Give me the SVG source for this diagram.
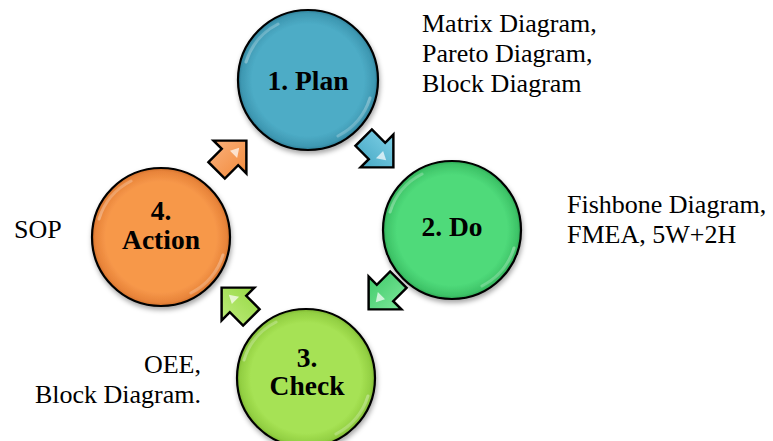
<svg xmlns="http://www.w3.org/2000/svg" width="773" height="441" viewBox="0 0 773 441" font-family="'Liberation Serif', 'DejaVu Serif', serif">
<style>
text{font-family:'Liberation Serif','DejaVu Serif',serif}
.lbl{font-size:26px;fill:#000}
.ttl{font-size:27.5px;font-weight:bold;fill:#000;text-anchor:middle}
.ring{stroke:#000;stroke-width:2.2}
.hl{fill:none;stroke:url(#hlg);stroke-width:3;stroke-linecap:round}
.arr{stroke:#000;stroke-width:1.7;stroke-linejoin:miter}
</style>
<defs>
<filter id="sh" x="-20%" y="-20%" width="140%" height="150%">
<feDropShadow dx="1" dy="3" stdDeviation="2.5" flood-color="#000" flood-opacity="0.35"/>
</filter>
<linearGradient id="hlg" x1="0" y1="0" x2="1" y2="1">
<stop offset="0" stop-color="#fff" stop-opacity="0"/>
<stop offset="0.5" stop-color="#fff" stop-opacity="0.95"/>
<stop offset="1" stop-color="#fff" stop-opacity="0"/>
</linearGradient>
<radialGradient id="gb" cx="0.5" cy="0.5" r="0.5"><stop offset="0.8" stop-color="#4DACC6"/><stop offset="0.95" stop-color="#3E98B2"/><stop offset="1" stop-color="#2F7F98"/></radialGradient>
<radialGradient id="gg" cx="0.5" cy="0.5" r="0.5"><stop offset="0.8" stop-color="#4FDA7A"/><stop offset="0.95" stop-color="#3EC468"/><stop offset="1" stop-color="#2FA855"/></radialGradient>
<radialGradient id="gl" cx="0.5" cy="0.5" r="0.5"><stop offset="0.8" stop-color="#A6E254"/><stop offset="0.95" stop-color="#92CF42"/><stop offset="1" stop-color="#7DB532"/></radialGradient>
<radialGradient id="go" cx="0.5" cy="0.5" r="0.5"><stop offset="0.8" stop-color="#F7984A"/><stop offset="0.95" stop-color="#E8843A"/><stop offset="1" stop-color="#D0702C"/></radialGradient>
<linearGradient id="ab" x1="0" y1="0" x2="0" y2="1"><stop offset="0" stop-color="#7FD0E6"/><stop offset="1" stop-color="#46A8C4"/></linearGradient>
<linearGradient id="ag" x1="0" y1="0" x2="0" y2="1"><stop offset="0" stop-color="#7DE69A"/><stop offset="1" stop-color="#3FCB6A"/></linearGradient>
<linearGradient id="al" x1="0" y1="0" x2="0" y2="1"><stop offset="0" stop-color="#BDEB7A"/><stop offset="1" stop-color="#97D945"/></linearGradient>
<linearGradient id="ao" x1="0" y1="0" x2="0" y2="1"><stop offset="0" stop-color="#FAB07A"/><stop offset="1" stop-color="#F28C3E"/></linearGradient>
<path id="arrow" d="M-14,-8 L-1,-8 L-1,-16 L15,0 L-1,16 L-1,8 L-14,8 Z"/>
<path id="shine" d="M-62,-18 A64,64 0 0 1 -30,-56 M62,18 A64,64 0 0 1 30,56"/>
</defs>

<g id="connectors">
<g transform="translate(378,152) rotate(45) scale(1.45)"><use href="#arrow" class="arr" fill="url(#ab)"/><path d="M2,-3 L8,0 L2,4 Z" fill="#fff" opacity="0.7"/></g>
<g transform="translate(384,294) rotate(135) scale(1.45)"><use href="#arrow" class="arr" fill="url(#ag)"/><path d="M2,-3 L8,0 L2,4 Z" fill="#fff" opacity="0.7"/></g>
<g transform="translate(237,303) rotate(-135) scale(1.45)"><use href="#arrow" class="arr" fill="url(#al)"/><path d="M2,-3 L8,0 L2,4 Z" fill="#fff" opacity="0.7"/></g>
<g transform="translate(231,156) rotate(-45) scale(1.45)"><use href="#arrow" class="arr" fill="url(#ao)"/><path d="M2,-3 L8,0 L2,4 Z" fill="#fff" opacity="0.7"/></g>
</g>

<g id="plan">
<circle cx="308" cy="80" r="70" class="ring" fill="url(#gb)" filter="url(#sh)"/>
<use href="#shine" x="308" y="80" class="hl"/>
<text class="ttl" x="308" y="90">1. Plan</text>
</g>

<g id="do">
<circle cx="452" cy="230" r="69" class="ring" fill="url(#gg)" filter="url(#sh)"/>
<use href="#shine" x="452" y="230" class="hl"/>
<text class="ttl" x="452" y="236">2. Do</text>
</g>

<g id="check">
<circle cx="306" cy="378" r="69" class="ring" fill="url(#gl)" filter="url(#sh)"/>
<use href="#shine" x="306" y="378" class="hl"/>
<text class="ttl" x="307" y="367">3.</text>
<text class="ttl" x="307" y="395">Check</text>
</g>

<g id="action">
<circle cx="161" cy="237" r="69" class="ring" fill="url(#go)" filter="url(#sh)"/>
<use href="#shine" x="161" y="237" class="hl"/>
<text class="ttl" x="161" y="220">4.</text>
<text class="ttl" x="161" y="249">Action</text>
</g>

<g id="notes">
<text class="lbl" x="422" y="32">Matrix Diagram,</text>
<text class="lbl" x="422" y="62">Pareto Diagram,</text>
<text class="lbl" x="422" y="92">Block Diagram</text>
<text class="lbl" x="567" y="213">Fishbone Diagram,</text>
<text class="lbl" x="567" y="243">FMEA, 5W+2H</text>
<text class="lbl" x="14" y="238">SOP</text>
<text class="lbl" x="201" y="373" text-anchor="end">OEE,</text>
<text class="lbl" x="201" y="403" text-anchor="end">Block Diagram.</text>
</g>
</svg>
